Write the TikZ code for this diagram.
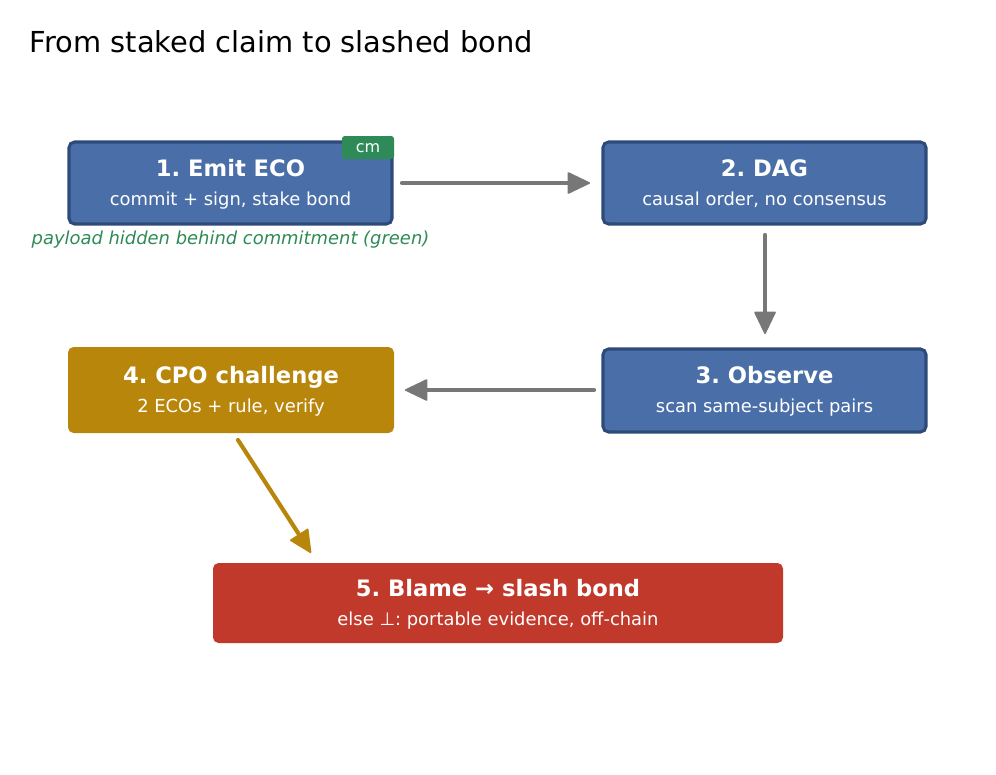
\documentclass[tikz,border=0pt]{standalone}
\usepackage{fontspec}
\setmainfont{DejaVu Sans}
\usetikzlibrary{arrows.meta}
\definecolor{bluefill}{HTML}{4A6FA8}
\definecolor{blueedge}{HTML}{2E4A7A}
\definecolor{gold}{HTML}{B8860B}
\definecolor{redbox}{HTML}{C0392B}
\definecolor{greentag}{HTML}{2E8B57}
\definecolor{arrowgray}{HTML}{777777}
\tikzset{
  box/.style={rounded corners=4pt, draw=blueedge, line width=2.2pt, fill=bluefill},
  flatbox/.style={rounded corners=4pt},
  ttl/.style={anchor=base, inner sep=0pt, text=white, font=\bfseries\fontsize{16.3}{19}\selectfont},
  sub/.style={anchor=base, inner sep=0pt, text=white, font=\fontsize{12.9}{15}\selectfont},
  conn/.style={-{Triangle[length=17pt,width=16pt,round,line width=1.2pt]}, line width=3pt, line cap=round, draw=arrowgray},
}
\begin{document}
\frenchspacing
\begin{tikzpicture}[x=0.72pt,y=-0.72pt]
\useasboundingbox[fill=white] (0,0) rectangle (996,774);
\node[anchor=west, font=\fontsize{20.8}{24}\selectfont] (title) at (25,42) {From staked claim to slashed bond};
% boxes
\draw[box] (69,142) rectangle (392,224);
\node[ttl] (b1t) at (230.5,176) {1. Emit ECO};
\node[sub] (b1s) at (230.5,205) {commit + sign, stake bond};
\fill[greentag, rounded corners=2pt] (342,136) rectangle (394,159);
\node[text=white, font=\fontsize{11.5}{13}\selectfont] (cm) at (368,148.5) {cm};
\node[text=greentag, font=\itshape\fontsize{12.9}{15}\selectfont] (cap) at (230.5,240) {payload hidden behind commitment (green)};

\draw[box] (603,142) rectangle (926,224);
\node[ttl] (b2t) at (764.5,176) {2. DAG};
\node[sub] (b2s) at (764.5,205) {causal order, no consensus};

\draw[box] (603,349) rectangle (926,432);
\node[ttl] (b3t) at (764.5,383) {3. Observe};
\node[sub] (b3s) at (764.5,412) {scan same-subject pairs};

\fill[gold, flatbox] (68,347) rectangle (394,433);
\node[ttl] (b4t) at (231,383) {4. CPO challenge};
\node[sub] (b4s) at (231,412) {2 ECOs + rule, verify};

\fill[redbox, flatbox] (213,563) rectangle (783,643);
\node[ttl] (b5t) at (498,596.5) {5. Blame → slash bond};
\node[sub] (b5s) at (498,625.5) {else ⊥: portable evidence, off-chain};

% connector endpoints
\coordinate (a1s) at (402,183); \coordinate (a1e) at (590,183);
\coordinate (a2s) at (765,235); \coordinate (a2e) at (765,334);
\coordinate (a3s) at (594,390); \coordinate (a3e) at (405,390);
\coordinate (a4s) at (238,440); \coordinate (a4e) at (311,553);
\draw[conn] (a1s) -- (a1e);
\draw[conn] (a2s) -- (a2e);
\draw[conn] (a3s) -- (a3e);
\draw[conn, draw=gold, fill=gold] (a4s) -- (a4e);
\end{tikzpicture}
\end{document}
